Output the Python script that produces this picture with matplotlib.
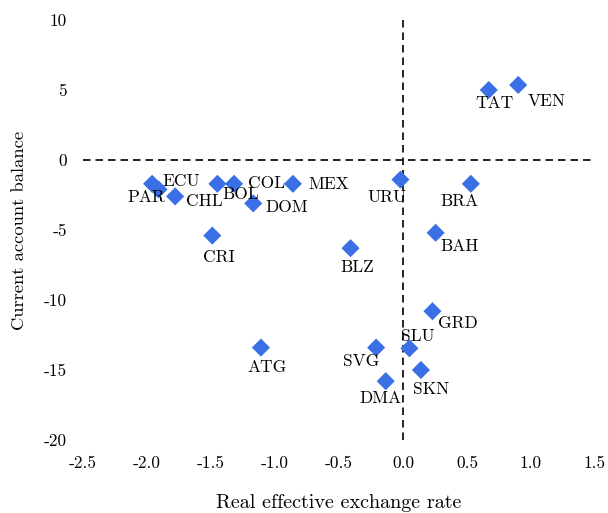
import matplotlib
matplotlib.use("Agg")
import matplotlib.pyplot as plt

plt.rcParams['font.family'] = ['cmr10', 'DejaVu Serif']
plt.rcParams['axes.formatter.use_mathtext'] = True

countries = ["ECU", "PAR", "CHL", "BOL", "COL", "DOM", "MEX", "CRI", "URU", "BRA",
             "BAH", "BLZ", "GRD", "SLU", "ATG", "SVG", "SKN", "DMA", "TAT", "VEN"]
reer = [-1.96, -1.91, -1.78, -1.45, -1.32, -1.17, -0.86, -1.49, -0.02, 0.53,
        0.255, -0.41, 0.23, 0.05, -1.11, -0.21, 0.14, -0.135, 0.67, 0.90]
cab = [-1.7, -2.1, -2.6, -1.7, -1.7, -3.1, -1.7, -5.4, -1.4, -1.7,
       -5.2, -6.3, -10.8, -13.45, -13.4, -13.4, -15.0, -15.8, 5.0, 5.36]

xticks = [-2.5, -2.0, -1.5, -1.0, -0.5, 0.0, 0.5, 1.0, 1.5]
yticks = [-20, -15, -10, -5, 0, 5, 10]

# label offsets in pixels (dx, dy, ha)
offsets = {
    "ECU": (10, 2, "left"), "PAR": (7, -8, "right"), "CHL": (11, -5, "left"),
    "BOL": (5, -11, "left"), "COL": (14, 0, "left"), "DOM": (12, -4, "left"),
    "MEX": (15, -1, "left"), "CRI": (7, -22, "center"), "URU": (-13, -18, "center"),
    "BRA": (-11, -18, "center"), "BAH": (24, -14, "center"), "BLZ": (7, -19, "center"),
    "GRD": (6, -12, "left"), "SLU": (8, 12, "center"), "ATG": (6, -20, "center"),
    "SVG": (-15, -14, "center"), "SKN": (10, -19, "center"), "DMA": (-5, -17, "center"),
    "TAT": (6, -13, "center"), "VEN": (28, -16, "center"),
}

fig = plt.figure(figsize=(6.08, 5.13), dpi=100)
W, H = 608, 513
ax = fig.add_axes([83 / W, 1 - 440 / H, (595 - 83) / W, (440 - 20) / H])
ax.set_xlim(-2.5, 1.5)
ax.set_ylim(-20, 10)
for s in ax.spines.values():
    s.set_visible(False)

ax.axhline(0, color='black', lw=1.2, ls=(0, (4.5, 3)), zorder=1)
ax.axvline(0, color='black', lw=1.2, ls=(0, (4.5, 3)), zorder=1)

ax.scatter(reer, cab, marker='D', s=85, color='#3b6fe6', edgecolors='none', zorder=3)

for c, x, y in zip(countries, reer, cab):
    dx, dy, ha = offsets[c]
    ax.annotate(c, (x, y), xytext=(dx, dy), textcoords='offset pixels',
                ha=ha, va='center', fontsize=12.5, color='black', zorder=4)

ax.set_xticks(xticks)
ax.set_xticklabels([f"{t:.1f}" for t in xticks])
ax.set_yticks(yticks)
ax.set_yticklabels([str(t) for t in yticks])
ax.tick_params(axis='both', length=0, labelsize=12.5)
ax.tick_params(axis='x', pad=11.5)
ax.tick_params(axis='y', pad=11.5)

ax.set_xlabel("Real effective exchange rate", fontsize=14.5, labelpad=16)
ax.set_ylabel("Current account balance", fontsize=13.4, labelpad=12)

fig.savefig("out.png", dpi=100)
